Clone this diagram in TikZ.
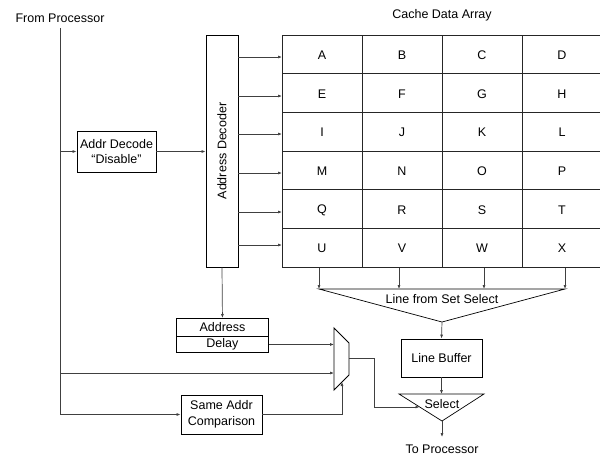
\documentclass[tikz,border=0pt]{standalone}
\usepackage{fontspec}
\setmainfont{Liberation Sans}
\usetikzlibrary{arrows.meta,calc}
\begin{document}
\begin{tikzpicture}[x=1pt,y=-1pt,
  every node/.style={font=\fontsize{12.5}{15.5}\selectfont, inner sep=0pt},
  box/.style={draw=black, line width=0.9pt},
  gridline/.style={draw=black!85, line width=1pt},
  conn/.style={line width=0.7pt, draw=black!75},
  arr/.style={conn, -{Latex[length=4pt,width=3pt]}},
  ]
\useasboundingbox (0,0) rectangle (600,456);

% titles
\node (fp) at (60,18) {From Processor};
\node (cda) at (442,15) {Cache Data Array};
\coordinate (src) at (60,28);

% boxes
\node[box, minimum width=79, minimum height=41, align=center] (adis) at (116.5,151.5) {Addr Decode\\“Disable”};
\node[box, minimum width=32, minimum height=232] (dec) at (222,151) {};
\node[rotate=90] (declbl) at (dec.center) {Address Decoder};

% grid
\node[gridline, minimum width=317.5, minimum height=232, anchor=north west] (grid) at (282,35) {};
\foreach \x in {362,442,522} \draw[gridline] (\x,35) -- (\x,267);
\foreach \y in {73.7,112.3,151,189.7,228.3} \draw[gridline] (282,\y) -- (599.5,\y);
\foreach \r/\y in {0/55,1/94,2/132,3/171,4/210,5/248}{
  \foreach \c/\x in {0/322,1/402,2/482,3/562}{
    \pgfmathtruncatemacro{\k}{\r*4+\c}
    \node (cell-\r-\c) at (\x,\y) {\ifcase\k A\or B\or C\or D\or E\or F\or G\or H\or I\or J\or K\or L\or M\or N\or O\or P\or Q\or R\or S\or T\or U\or V\or W\or X\fi};
  }
}

% decoder -> grid rows
\foreach \y in {57,96,134,173,212,245}
  \draw[arr] (dec.east |- 0,\y) -- (grid.west |- 0,\y);

% source connections
\draw[arr] (src |- adis.west) -- (adis.west);
\draw[arr] (adis.east) -- (dec.west |- adis.east);

% line from set select
\coordinate (lfsL) at (319,289);
\coordinate (lfsR) at (565,289);
\coordinate (lfs) at (442,322);
\foreach \x in {319,399,484,565}
  \draw[arr] (grid.south -| \x,0) -- (\x,289);
\draw[conn, draw=black] (lfsL) -- (lfsR) -- (lfs) -- cycle;
\node (lfstxt) at (442,299) {Line from Set Select};

% line buffer
\node[box, minimum width=81, minimum height=38] (lb) at (441.5,358) {Line Buffer};
\draw[arr] (lfs) -- (lb.north);

% select
\coordinate (selL) at (399,394);
\coordinate (selR) at (484,394);
\coordinate (selB) at (442,421);
\draw[conn, draw=black] (selL) -- (selR) -- (selB) -- cycle;
\node (seltxt) at (442,404) {Select};
\draw[arr] (lb.south) -- (lb.south |- selL);
\node (tp) at (442,449) {To Processor};
\draw[arr] (selB) -- (442,437);

% address delay
\node[box, minimum width=92, minimum height=18, anchor=north west] (addr) at (176,318) {Address};
\node[box, minimum width=92, minimum height=16, anchor=north west] (delay) at (176,336) {Delay};
\draw[arr] (dec.south) -- (addr.north);

% same addr comparison
\node[box, minimum width=81, minimum height=39, align=center] (sac) at (221.5,414.5) {Same Addr\\Comparison};

% mux
\coordinate (m1) at (334,328);
\coordinate (m2) at (349,343);
\coordinate (m3) at (349,375);
\coordinate (m4) at (334,390);
\draw[box] (m1) -- (m2) -- (m3) -- (m4) -- cycle;
\draw[arr] (delay.east) -- (m1 |- delay.east);
\draw[arr] (src) |- (sac.west);
\draw[arr] (src |- 0,373) -- (m1 |- 0,373);
\draw[arr] (sac.east) -| (342,382);
\coordinate (mout) at (349,358);
\draw[arr] (mout) -- (374,358) -- (374,407) -- (419.5,407);
\end{tikzpicture}
\end{document}
